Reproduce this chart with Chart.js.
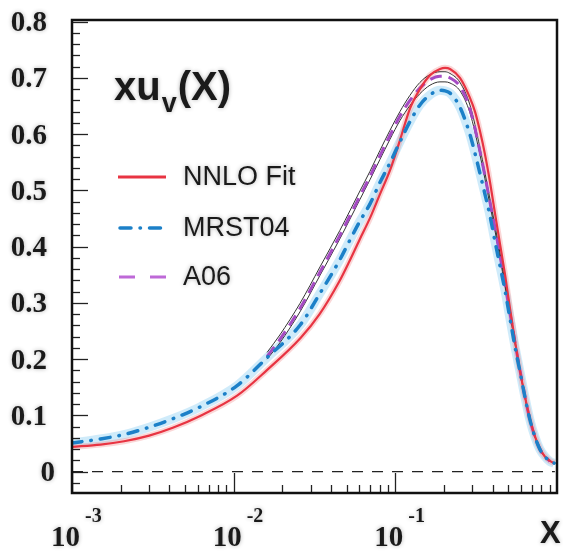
<!DOCTYPE html>
<html>
<head>
<meta charset="utf-8">
<script src="https://cdn.jsdelivr.net/npm/chart.js@4.4.1/dist/chart.umd.min.js"></script>
<style>
  html, body { margin: 0; padding: 0; background: #fff; }
  #wrap { width: 563px; height: 551px; position: relative; }
</style>
</head>
<body>
<div id="wrap"><canvas id="pdfChart"></canvas></div>
<script>
// x values shared by the NNLO fit and MRST04 curves
const xGrid = [0.001, 0.0015, 0.0021, 0.003, 0.0042, 0.0062, 0.0105, 0.016, 0.026, 0.034,
  0.045, 0.052, 0.060, 0.070, 0.080, 0.093, 0.107, 0.123, 0.142, 0.164,
  0.189, 0.203, 0.218, 0.251, 0.289, 0.311, 0.334, 0.358, 0.385, 0.413,
  0.444, 0.477, 0.512, 0.550, 0.590, 0.632, 0.679, 0.730, 0.783, 0.841,
  0.904, 0.96];

const nnlo = [0.044, 0.048, 0.054, 0.064, 0.078, 0.099, 0.135, 0.180, 0.238, 0.280,
  0.338, 0.374, 0.412, 0.452, 0.492, 0.537, 0.590, 0.645, 0.680, 0.705,
  0.716, 0.718, 0.716, 0.700, 0.665, 0.640, 0.605, 0.565, 0.515, 0.460,
  0.405, 0.350, 0.290, 0.232, 0.180, 0.135, 0.095, 0.063, 0.041, 0.027,
  0.019, 0.015];

const mrst04 = [0.051, 0.058, 0.066, 0.079, 0.094, 0.115, 0.153, 0.202, 0.262, 0.316,
  0.375, 0.410, 0.444, 0.477, 0.513, 0.550, 0.587, 0.622, 0.652, 0.670,
  0.678, 0.677, 0.673, 0.648, 0.600, 0.566, 0.530, 0.494, 0.455, 0.410,
  0.366, 0.322, 0.272, 0.222, 0.178, 0.134, 0.093, 0.062, 0.040, 0.027,
  0.018, 0.015];

// A06 starts at higher x, with its error band edges
const a06X = [0.0161, 0.0193, 0.0257, 0.0342, 0.0454, 0.0524, 0.0604, 0.0697, 0.0803, 0.0927,
  0.1067, 0.1231, 0.1419, 0.1637, 0.1888, 0.2028, 0.2178, 0.2512, 0.2893, 0.3336,
  0.3845, 0.4436, 0.5117, 0.5902, 0.6792, 0.7834, 0.9036];
const a06 = [0.205, 0.235, 0.290, 0.355, 0.420, 0.455, 0.490, 0.525, 0.562, 0.598,
  0.632, 0.660, 0.682, 0.697, 0.703, 0.703, 0.700, 0.685, 0.645, 0.570,
  0.480, 0.385, 0.282, 0.180, 0.093, 0.040, 0.018];
const a06Hi = [0.212, 0.243, 0.299, 0.364, 0.429, 0.464, 0.499, 0.534, 0.571, 0.607,
  0.640, 0.669, 0.692, 0.706, 0.711, 0.711, 0.708, 0.692, 0.652, 0.576,
  0.485, 0.389, 0.285, 0.182, 0.094, 0.040, 0.018];
const a06Lo = [0.200, 0.229, 0.284, 0.349, 0.414, 0.449, 0.484, 0.519, 0.555, 0.591,
  0.624, 0.651, 0.672, 0.687, 0.693, 0.693, 0.691, 0.677, 0.638, 0.564,
  0.475, 0.381, 0.279, 0.178, 0.092, 0.040, 0.018];

// dashed zero reference
const zeroX = [0.001, 0.97];
const zeroY = [0, 0];

// axis labels
const yTickValues = [0, 0.1, 0.2, 0.3, 0.4, 0.5, 0.6, 0.7, 0.8];
const yTickLabels = ['0', '0.1', '0.2', '0.3', '0.4', '0.5', '0.6', '0.7', '0.8'];
const xDecades = [0.001, 0.01, 0.1];
const xDecadeExps = ['-3', '-2', '-1'];

const legendItems = ['NNLO Fit', 'MRST04', 'A06'];

function pts(xs, ys) {
  return xs.map((x, i) => ({ x: x, y: ys[i] }));
}

const RED = 'rgb(232, 52, 66)';
const BLUE = 'rgb(28, 128, 200)';
const PURPLE = 'rgb(165, 75, 195)';

// Frame, inward ticks, labels and the legend
const decorPlugin = {
  id: 'decor',
  afterDraw(chart) {
    const ctx = chart.ctx;
    const area = chart.chartArea;
    const xs = chart.scales.x;
    const ys = chart.scales.y;
    ctx.save();

    // ticks on the bottom axis
    ctx.strokeStyle = '#222';
    ctx.lineWidth = 1.3;
    for (let d = 0.001; d < 1; d *= 10) {
      for (let m = 1; m <= 9; m++) {
        const v = d * m;
        const px = Math.round(xs.getPixelForValue(v)) + 0.5;
        const len = m === 1 ? 20 : 8;
        ctx.beginPath();
        ctx.moveTo(px, area.bottom);
        ctx.lineTo(px, area.bottom - len);
        ctx.stroke();
      }
    }
    // ticks on the left axis
    for (let k = -1; k <= 40; k++) {
      const v = k * 0.02;
      const py = Math.round(ys.getPixelForValue(v)) + 0.5;
      if (py < area.top + 2 || py > area.bottom - 2) continue;
      const len = k % 5 === 0 ? 16 : 8;
      ctx.beginPath();
      ctx.moveTo(area.left, py);
      ctx.lineTo(area.left + len, py);
      ctx.stroke();
    }

    // frame
    ctx.strokeStyle = '#111';
    ctx.lineWidth = 2.5;
    ctx.strokeRect(area.left, area.top, area.right - area.left, area.bottom - area.top);

    // text with a soft halo
    ctx.shadowColor = 'rgba(0,0,0,0.3)';
    ctx.shadowBlur = 4;
    ctx.fillStyle = '#1a1a1a';

    // y tick labels
    ctx.font = 'bold 29px "Liberation Serif"';
    ctx.textAlign = 'right';
    ctx.textBaseline = 'middle';
    yTickValues.forEach((v, i) => {
      const py = ys.getPixelForValue(v) + 2;
      const xr = v === 0 ? 55 : 47;
      ctx.fillText(yTickLabels[i], xr, py);
    });

    // x decade labels: 10 with a raised exponent
    ctx.textBaseline = 'alphabetic';
    xDecades.forEach((v, i) => {
      const px = xs.getPixelForValue(v);
      ctx.font = 'bold 29px "Liberation Serif"';
      ctx.textAlign = 'right';
      ctx.fillText('10', px + 8, 546);
      ctx.font = 'bold 20px "Liberation Serif"';
      ctx.textAlign = 'left';
      ctx.fillText(xDecadeExps[i], px + 13, 522);
    });

    // axis name
    ctx.font = 'bold 31px "Liberation Sans"';
    ctx.textAlign = 'left';
    ctx.fillText('X', 540, 543);

    // title xu_v(X)
    ctx.font = 'bold 40px "Liberation Sans"';
    ctx.fillText('xu', 114, 100);
    let tx = 114 + ctx.measureText('xu').width;
    ctx.font = 'bold 27px "Liberation Sans"';
    ctx.fillText('v', tx + 1, 112);
    tx += ctx.measureText('v').width + 2;
    ctx.font = 'bold 40px "Liberation Sans"';
    ctx.fillText('(X)', tx, 100);

    // legend
    ctx.font = '27px "Liberation Sans"';
    ctx.textBaseline = 'middle';
    const rows = [177, 228, 277];
    legendItems.forEach((label, i) => {
      ctx.fillText(label, 183, rows[i] + 1);
    });
    ctx.shadowBlur = 0;
    ctx.shadowColor = 'transparent';

    ctx.lineWidth = 3;
    ctx.strokeStyle = RED;
    ctx.beginPath();
    ctx.moveTo(118, rows[0]);
    ctx.lineTo(166, rows[0]);
    ctx.stroke();

    ctx.strokeStyle = BLUE;
    ctx.lineWidth = 3.5;
    ctx.lineCap = 'round';
    ctx.setLineDash([11, 9, 0.5, 9]);
    ctx.beginPath();
    ctx.moveTo(120, rows[1]);
    ctx.lineTo(166, rows[1]);
    ctx.stroke();

    ctx.lineCap = 'butt';
    ctx.strokeStyle = 'rgb(190, 105, 215)';
    ctx.lineWidth = 3;
    ctx.setLineDash([16, 15]);
    ctx.beginPath();
    ctx.moveTo(119, rows[2]);
    ctx.lineTo(166, rows[2]);
    ctx.stroke();

    ctx.restore();
  }
};

const ctx = document.getElementById('pdfChart').getContext('2d');
const pdfChart = new Chart(ctx, {
  type: 'line',
  data: {
    datasets: [
      {
        label: 'MRST04',
        data: pts(xGrid, mrst04),
        borderColor: BLUE,
        borderWidth: 3.5,
        borderDash: [10, 9, 0.5, 9],
        borderCapStyle: 'round',
        order: 0,
      },
      {
        label: 'NNLO Fit',
        data: pts(xGrid, nnlo),
        borderColor: RED,
        borderWidth: 2.2,
        order: 1,
      },
      {
        label: 'A06',
        data: pts(a06X, a06),
        borderColor: PURPLE,
        borderWidth: 3,
        borderDash: [12, 7],
        order: 2,
      },
      {
        label: 'A06 upper',
        data: pts(a06X, a06Hi),
        borderColor: '#333',
        borderWidth: 1,
        order: 3,
      },
      {
        label: 'A06 lower',
        data: pts(a06X, a06Lo),
        borderColor: '#333',
        borderWidth: 1,
        order: 3,
      },
      {
        label: 'NNLO band',
        data: pts(xGrid, nnlo),
        borderColor: 'rgba(240, 140, 140, 0.35)',
        borderWidth: 6,
        order: 4,
      },
      {
        label: 'MRST04 band',
        data: pts(xGrid, mrst04),
        borderColor: 'rgba(160, 215, 245, 0.5)',
        borderWidth: 9,
        order: 5,
      },
      {
        label: 'zero',
        data: pts(zeroX, zeroY),
        borderColor: '#222',
        borderWidth: 1.2,
        borderDash: [11, 9],
        order: 6,
      },
    ],
  },
  options: {
    responsive: true,
    maintainAspectRatio: false,
    animation: false,
    layout: {
      padding: { left: 72, top: 20, right: 6, bottom: 58 },
    },
    elements: {
      point: { radius: 0 },
      line: { cubicInterpolationMode: 'monotone', fill: false },
    },
    plugins: {
      legend: { display: false },
      tooltip: { enabled: false },
    },
    scales: {
      x: {
        type: 'logarithmic',
        min: 0.001,
        max: 1,
        display: false,
      },
      y: {
        type: 'linear',
        min: -0.038,
        max: 0.803,
        display: false,
      },
    },
  },
  plugins: [decorPlugin],
});
</script>
</body>
</html>
